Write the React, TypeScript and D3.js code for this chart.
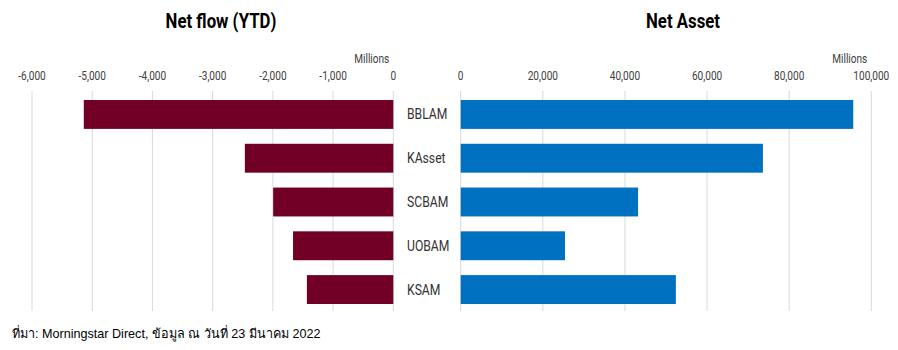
import React, { useEffect, useRef } from "react";
import * as d3 from "d3";

const categories = ["BBLAM", "KAsset", "SCBAM", "UOBAM", "KSAM"];
const netFlow = [-5140, -2465, -1995, -1665, -1435];
const netAsset = [95600, 73600, 43200, 25400, 52400];

const flowTicks = [-6000, -5000, -4000, -3000, -2000, -1000, 0];
const assetTicks = [0, 20000, 40000, 60000, 80000, 100000];

const flowTitle = "Net flow (YTD)";
const assetTitle = "Net Asset";
const unitLabel = "Millions";
const sourceNote = "ที่มา: Morningstar Direct, ข้อมูล ณ วันที่ 23 มีนาคม 2022";

const width = 898;
const height = 350;
const font = "Roboto, sans-serif";
const squeeze = 0.84; // fake a condensed face

export default function App() {
  const svgRef = useRef<SVGSVGElement>(null);

  useEffect(() => {
    const svg = d3.select(svgRef.current);
    svg.selectAll("*").remove();

    const y = d3
      .scaleBand()
      .domain(categories)
      .range([93, 311])
      .paddingInner(0.34)
      .paddingOuter(0.16);

    const xFlow = d3.scaleLinear().domain([-6000, 0]).range([32, 393.3]);
    const xAsset = d3.scaleLinear().domain([0, 100000]).range([460.7, 871.3]);

    const fmt = d3.formatLocale({ decimal: ".", thousands: ",", grouping: [3], currency: ["", ""], minus: "-" }).format(",");

    // text squeezed horizontally around its anchor point
    const label = (g: any, x: number, yy: number, t: string, size: number, anchor: string, color: string, weight = "normal") =>
      g
        .append("text")
        .attr("transform", `translate(${x},${yy}) scale(${squeeze},1)`)
        .attr("text-anchor", anchor)
        .attr("font-family", font)
        .attr("font-size", size)
        .attr("font-weight", weight)
        .attr("fill", color)
        .text(t);

    const panel = (x: d3.ScaleLinear<number, number>, ticks: number[]) => {
      const g = svg.append("g");
      g.selectAll("line")
        .data(ticks)
        .join("line")
        .attr("x1", (d) => x(d))
        .attr("x2", (d) => x(d))
        .attr("y1", 91)
        .attr("y2", 311)
        .attr("stroke", "#d9d9d9")
        .attr("stroke-width", 1);
      ticks.forEach((d) => label(g, x(d), 80, fmt(d), 12, "middle", "#404040"));
    };

    panel(xFlow, flowTicks);
    panel(xAsset, assetTicks);

    svg
      .append("g")
      .attr("fill", "#720026")
      .selectAll("rect")
      .data(netFlow)
      .join("rect")
      .attr("x", (d) => xFlow(d))
      .attr("width", (d) => xFlow(0) - xFlow(d))
      .attr("y", (d, i) => y(categories[i])!)
      .attr("height", y.bandwidth());

    svg
      .append("g")
      .attr("fill", "#0070c0")
      .selectAll("rect")
      .data(netAsset)
      .join("rect")
      .attr("x", xAsset(0))
      .attr("width", (d) => xAsset(d) - xAsset(0))
      .attr("y", (d, i) => y(categories[i])!)
      .attr("height", y.bandwidth());

    // category labels between the panels
    const cats = svg.append("g");
    categories.forEach((c) => label(cats, 407, y(c)! + y.bandwidth() / 2 + 5, c, 14.5, "start", "#333"));

    label(svg, xFlow(0) - 4, 63, unitLabel, 12, "end", "#404040");
    label(svg, xAsset(100000) - 4, 63, unitLabel, 12, "end", "#404040");

    label(svg, 221, 28, flowTitle, 20, "middle", "#000", "bold");
    label(svg, 683, 28, assetTitle, 20, "middle", "#000", "bold");

    svg
      .append("text")
      .attr("x", 12)
      .attr("y", 338)
      .attr("font-family", "'Liberation Sans', Tahoma, sans-serif")
      .attr("font-size", 12.6)
      .attr("fill", "#000")
      .text(sourceNote);
  }, []);

  return (
    <div style={{ position: "absolute", left: 0, top: 0 }}>
      <svg ref={svgRef} width={width} height={height} style={{ display: "block", background: "#fff" }} />
    </div>
  );
}
